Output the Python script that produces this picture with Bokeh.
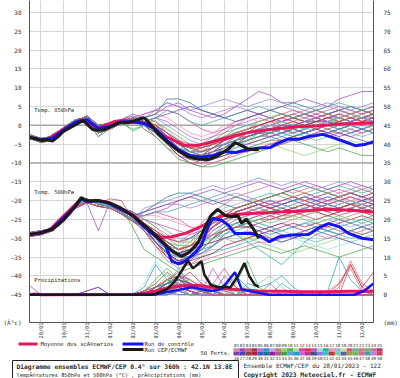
import math
from bokeh.plotting import figure
from bokeh.layouts import column
from bokeh.models import Range1d, LinearAxis, FixedTicker, Label, Span, ColumnDataSource
from bokeh.core.properties import value
from bokeh.embed import file_html
from bokeh.resources import INLINE

# ---------------- data ----------------
HOURS = [0, 12, 24, 36, 48, 60, 72, 84, 96, 108, 120, 132, 144, 156, 168, 180, 192,
         204, 216, 228, 240, 252, 264, 276, 288, 300, 312, 324, 336, 348, 360]

DATE_HOURS = [12, 36, 60, 84, 108, 132, 156, 180, 204, 228, 252, 276, 300, 324, 348]
DATE_LABELS = ["29/01", "30/01", "31/01", "01/02", "02/02", "03/02", "04/02", "05/02",
               "06/02", "07/02", "08/02", "09/02", "10/02", "11/02", "12/02"]
T_TICKS = [-45, -40, -35, -30, -25, -20, -15, -10, -5, 0, 5, 10, 15, 20, 25, 30]
MM_TICKS = [0, 5, 10, 15, 20, 25, 30, 35, 40, 45, 50, 55, 60, 65, 70, 75]
T_UNIT_LABEL = "(Â°c)"
MM_UNIT_LABEL = "(mm)"

MEMBER_COLORS = [
    "#d08aa8", "#a040c0", "#c86070", "#a03050", "#b070d0", "#3090c8", "#c0a0e0", "#b88070",
    "#90d070", "#50b050", "#a0e0a0", "#e040a0", "#e03050", "#c050c0", "#90e0e0", "#30b0a0",
    "#f090b0", "#90b0e0", "#c0e090", "#e05070", "#50c0a0", "#e07070", "#70b070", "#c070a0",
    "#c03070",
    "#8040a0", "#5040c0", "#904040", "#b02040", "#3060c0", "#207090", "#9020a0", "#a06080",
    "#40a040", "#60a0e0", "#20a0c0", "#d060d0", "#b04080", "#405090", "#8080e0", "#40c0c0",
    "#d03030", "#70d0b0", "#6060a0", "#a0a040", "#60c060", "#e06090", "#40a0a0", "#c080e0",
    "#d04060"]

T850_MEMBERS = [
    [-3, -4, -3.5, -1, 1, 1.5, -1, -0.5, 1, 1, 1, -1, -4, -7, -9, -9, -8, -7, -5, -4, -3, -3, -2, -1, -2, -1, 0, 1, 0, 1, 2],
    [-3, -4, -3, -1.5, 0.5, 2, -0.5, 0, 1.5, 3, 2, 3, 5, 6, 4, 3, 2, 3, 5, 7, 9, 8, 6, 6, 7, 6, 5, 7, 8, 9, 9],
    [-3.5, -4.5, -4, -1, 1, 1.5, -1.5, -1, 0.5, 1, 0, -2, -5, -8, -10, -11, -10, -9, -7, -6, -5, -4, -4, -3, -4, -3, -2, -2, -3, -2, -1],
    [-3, -3.5, -3, -0.5, 1.5, 2, -1, 0, 1, 2, -1, -3, -6, -8, -9, -8, -7, -5, -4, -2, -1, 0, 1, 2, 1, 2, 3, 2, 1, 2, 3],
    [-3, -4, -3.5, -1.5, 0.5, 1, -2, -1, 0.5, 0.5, 3, 4, 6, 5, 3, 2, 3, 4, 5, 4, 3, 2, 3, 4, 3, 2, 3, 4, 5, 4, 3],
    [-2.5, -3.5, -3, -1, 1, 2.5, 0, 0.5, 1.5, 1, 1, 0, -3, -6, -8, -9, -7, -6, -4, -3, -2, -1, -2, -3, -2, -1, 0, -1, -2, -1, 0],
    [-3, -4, -3.5, -1, 1, 1.5, -1, -0.5, 1, 1, 2, 1, -1, -4, -6, -7, -6, -4, -3, -1, 0, 1, 2, 1, 2, 3, 2, 3, 4, 3, 2],
    [-3, -4, -3, -1.5, 0.5, 2, -0.5, 0, 1.5, 1.5, 0, -2, -4, -6, -7, -7, -6, -5, -6, -5, -4, -3, -2, -1, 0, 1, 0, -1, 0, 1, 1],
    [-3.5, -4.5, -4, -1, 1, 1.5, -3, -1, 0.5, 1, 2, 1, -2, -5, -7, -8, -8, -7, -6, -5, -4, -5, -6, -7, -8, -7, -6, -5, -4, -5, -4],
    [-3, -3.5, -3, -0.5, 1.5, 2, -1, 0, 1, 2, 0, -1, -3, -5, -6, -5, -4, -2, -1, 0, 1, 2, 3, 2, 1, 2, 3, 4, 3, 2, 3],
    [-3, -4, -3.5, -1.5, 0.5, 1, -2, -1, 0.5, 0.5, 1, -1, -4, -7, -9, -10, -9, -8, -6, -5, -3, -2, -1, 0, 1, 0, 1, 2, 1, 0, 1],
    [-2.5, -3.5, -3, -1, 1, 2.5, 0, 0.5, 1.5, 2, 3, 4, 4, 3, 1, -1, -2, -1, 1, 2, 3, 4, 3, 2, 1, 2, 3, 4, 3, 4, 5],
    [-3, -4, -3.5, -1, 1, 1.5, -1, -0.5, 1, 1, 0, -2, -5, -8, -9, -9, -8, -6, -5, -4, -3, -2, -1, -2, -1, 0, 1, 2, 3, 2, 1],
    [-3, -4, -3, -1.5, 0.5, 2, -0.5, 0, 1.5, 1.5, 1, 2, 1, -1, -3, -4, -3, -1, 0, 1, 2, 1, 0, 1, 2, 3, 4, 5, 4, 3, 4],
    [-3.5, -4.5, -4, -1, 1, 1.5, -1.5, -1, 0.5, 1, 0, -3, -6, -8, -9, -10, -9, -7, -6, -5, -4, -3, -2, -1, -2, -3, -2, -1, 0, -1, 0],
    [-3, -3.5, -3, -0.5, 1.5, 2, -1, 0, 1, 2, 1, -1, -4, -6, -7, -6, -5, -3, -2, -1, 0, -1, -2, -1, 0, 1, 2, 1, 0, 1, 2],
    [-3, -4, -3.5, -1.5, 0.5, 1, -2, -1, 0.5, 0.5, 2, 3, 2, 0, -2, -3, -2, 0, 1, 2, 1, 2, 3, 4, 3, 2, 1, 2, 3, 2, 3],
    [-2.5, -3.5, -3, -1, 1, 2.5, 0, 0.5, 1.5, 1, 0, -2, -4, -7, -8, -8, -7, -7, -6, -4, -3, -3, -2, -2, -1, -1, 0, 0, -1, 0, -1],
    [-3, -4, -3.5, -1, 1, 1.5, -1, -0.5, 1, 1, 1, 0, -2, -4, -6, -7, -7, -6, -5, -3, -2, -1, 0, 1, 2, 1, 2, 1, 2, 3, 2],
    [-3, -4, -3, -1.5, 0.5, 2, -0.5, 0, 1.5, 1.5, 2, 0, -3, -6, -8, -8, -6, -4, -2, -1, 0, 1, 2, 3, 4, 3, 2, 3, 2, 1, 2],
    [-3.5, -4.5, -4, -1, 1, 1.5, -3, -1, 0.5, -1, 0, -2, -5, -7, -8, -9, -9, -8, -7, -6, -5, -4, -3, -2, -3, -4, -3, -2, -1, -2, -1],
    [-3, -3.5, -3, -0.5, 1.5, 2, -1, 0, 1, 2, 1, -1, -3, -5, -7, -6, -4, -3, -2, -1, 0, 1, 1, 0, 1, 2, 1, 0, 1, 2, 1],
    [-3, -4, -3.5, -1.5, 0.5, 1, -2, -1, 0.5, 0.5, 1, 0, -2, -4, -6, -6, -5, -5, -4, -3, -2, -2, -1, -1, 0, 0, 1, 1, 2, 2, 1],
    [-2.5, -3.5, -3, -1, 1, 2.5, 0, 0.5, 1.5, 1, 2, 1, -2, -5, -6, -5, -3, -2, 0, 2, 3, 4, 5, 4, 3, 4, 5, 4, 3, 4, 5],
    [-3, -4, -3.5, -1, 1, 1.5, -1, -0.5, 1, 1, 0, -2, -5, -8, -10, -10, -9, -7, -5, -3, -2, -1, -1, 0, 1, 2, 1, 0, 1, 0, 1],
    [-3, -4, -3, -1.5, 0.5, 2, -0.5, 0, 1.5, 2.5, 1, 2, 3, 4, 5, 4, 3, 2, 3, 4, 3, 2, 1, 2, 3, 2, 1, 0, 1, 2, 3],
    [-3.5, -4.5, -4, -1, 1, 1.5, -1.5, -1, 0.5, 1, 0, -1, -4, -7, -8, -9, -8, -7, -5, -4, -3, -2, -3, -4, -3, -2, -1, -2, -3, -4, -5],
    [-3, -3.5, -3, -0.5, 1.5, 2, -1, 0, 1, 2, 1, 0, -3, -5, -7, -8, -7, -5, -4, -2, -1, 0, 1, 2, 1, 0, -1, 0, 1, 0, 1],
    [-3, -4, -3.5, -1.5, 0.5, 1, -2, -1, 0.5, 0.5, 1, -1, -3, -6, -8, -9, -9, -8, -7, -7, -6, -5, -4, -3, -2, -1, -2, -1, 0, 1, 0],
    [-2.5, -3.5, -3, -1, 1, 2.5, 0, 0.5, 1.5, 1, 0, -2, -4, -7, -8, -8, -6, -5, -3, -2, -1, -1, 0, 0, 1, 1, 2, 2, 1, 2, 2],
    [-3, -4, -3.5, -1, 1, 1.5, -1, -0.5, 1, 1, 2, 3, 7, 7, 6, 4, 3, 2, 1, 2, 3, 4, 5, 6, 5, 4, 3, 4, 5, 4, 3],
    [-3, -4, -3, -1.5, 0.5, 2, -0.5, 0, 1.5, 1.5, 1, -1, -4, -6, -8, -8, -7, -6, -5, -5, -4, -3, -2, -1, -2, -1, -2, -3, -2, -1, -2],
    [-3.5, -4.5, -4, -1, 1, 1.5, -1.5, -1, 0.5, 1, 1, 0, -2, -5, -7, -7, -5, -4, -3, -2, -1, 0, -1, -2, -1, 0, 1, 2, 1, 2, 3],
    [-3, -3.5, -3, -0.5, 1.5, 2, -3, 0, 1, -1.5, 0, -3, -6, -9, -10, -11, -11, -10, -9, -8, -7, -6, -5, -4, -5, -6, -7, -6, -7, -8, -8],
    [-3, -4, -3.5, -1.5, 0.5, 1, -2, -1, 0.5, 0.5, 1, 2, 0, -2, -4, -5, -4, -3, -1, 0, 1, 2, 1, 0, -1, 0, 1, 2, 1, 0, 1],
    [-2.5, -3.5, -3, -1, 1, 2.5, 0, 0.5, 1.5, 1, 1, -1, -3, -5, -7, -8, -8, -7, -5, -4, -2, -1, 0, -1, -2, -3, -2, -1, 0, -1, -2],
    [-3, -4, -3.5, -1, 1, 1.5, -1, -0.5, 1, 1, 0, -2, -5, -7, -8, -7, -6, -4, -3, -2, -1, 0, 1, 2, 3, 4, 3, 2, 3, 4, 3],
    [-3, -4, -3, -1.5, 0.5, 2, -0.5, 0, 1.5, 1.5, 1, 0, -2, -4, -5, -6, -5, -4, -2, -1, 0, 1, 2, 3, 2, 1, 2, 3, 2, 3, 4],
    [-3.5, -4.5, -4, -1, 1, 1.5, -1.5, -1, 0.5, 1, 1, -1, -4, -7, -9, -9, -8, -6, -5, -3, -2, -2, -1, 0, 0, 1, 1, 0, 1, 2, 1],
    [-3, -3.5, -3, -0.5, 1.5, 2, -1, 0, 1, 2, 2, 4, 6, 5, 4, 5, 6, 7, 6, 5, 6, 7, 6, 5, 4, 5, 6, 5, 4, 5, 6],
    [-3, -4, -3.5, -1.5, 0.5, 1, -2, -1, 0.5, 0.5, 0, -2, -4, -6, -7, -7, -6, -5, -4, -3, -2, -1, -2, -3, -2, -1, 0, -1, -2, -3, -2],
    [-2.5, -3.5, -3, -1, 1, 2.5, 0, 0.5, 1.5, 1, 1, 0, -3, -5, -6, -7, -6, -4, -3, -2, 0, 1, 2, 1, 0, 1, 2, 1, 2, 1, 2],
    [-3, -4, -3.5, -1, 1, 1.5, -1, -0.5, 1, 1, 1, -1, -4, -6, -8, -9, -8, -6, -4, -2, -1, 0, 1, 0, -1, 0, 1, 2, 3, 2, 1],
    [-3, -4, -3, -1.5, 0.5, 2, -0.5, 0, 1.5, 1.5, 0, -2, -5, -7, -9, -9, -7, -6, -4, -3, -2, -3, -4, -3, -2, -1, 0, 1, 0, -1, 0],
    [-3.5, -4.5, -4, -1, 1, 1.5, -1.5, -1, 0.5, 1, 1, 1, -1, -3, -5, -6, -5, -3, -2, -1, 1, 2, 3, 2, 3, 4, 3, 2, 3, 4, 3],
    [-3, -3.5, -3, -0.5, 1.5, 2, -1, 0, 1, 2, 1, 0, -3, -6, -8, -9, -8, -6, -5, -4, -3, -2, -1, -1, 0, -1, 0, 1, 0, 1, 0],
    [-3, -4, -3.5, -1.5, 0.5, 1, -2, -1, 0.5, 0.5, 1, -1, -4, -7, -9, -10, -10, -9, -8, -7, -6, -6, -5, -4, -3, -2, -3, -2, -1, -2, -1],
    [-2.5, -3.5, -3, -1, 1, 2.5, 0, 0.5, 1.5, 1, 1, 2, 4, 3, 1, 0, 1, 2, 3, 4, 5, 4, 3, 2, 3, 4, 5, 6, 5, 4, 5],
    [-3, -4, -3.5, -1, 1, 1.5, -1, -0.5, 1, 1, 0, -1, -3, -6, -8, -8, -7, -5, -3, -2, -1, 0, -1, 0, 1, 2, 1, 0, 1, 2, 1],
    [-3, -4, -3, -1.5, 0.5, 2, -0.5, 0, 1.5, 1.5, 1, -1, -3, -5, -6, -6, -5, -4, -3, -3, -2, -1, 0, 1, 0, -1, 0, 1, 2, 1, 0],
]

T500_MEMBERS = [
    [-29, -28.5, -27.5, -25, -21.5, -20, -20.5, -21, -22.5, -24, -27, -31, -34, -36, -34, -30, -27, -25, -24, -26, -25, -24, -25, -23, -24, -22, -21, -22, -23, -22, -21],
    [-29.5, -29, -28, -25.5, -22, -20.5, -28, -20.5, -22, -23.5, -24, -23, -22, -20, -19, -18, -17, -18, -17, -16, -15, -16, -17, -16, -15, -16, -17, -16, -15, -16, -17],
    [-29, -28.5, -27, -24.5, -21, -19.5, -21, -21.5, -23, -25, -28, -32, -36, -38, -37, -35, -32, -30, -29, -28, -29, -30, -31, -30, -29, -28, -27, -28, -29, -28, -27],
    [-28.5, -28, -27.5, -25, -22, -20, -20, -21, -22, -23, -27, -30, -34, -35, -33, -30, -27, -25, -23, -22, -21, -20, -21, -20, -19, -20, -21, -20, -19, -20, -21],
    [-29, -29, -27.5, -24, -21.5, -20.5, -21.5, -22, -23.5, -25.5, -23, -22, -21, -21, -22, -21, -20, -19, -18, -19, -20, -19, -18, -19, -20, -21, -20, -19, -18, -17, -18],
    [-29, -28.5, -27.5, -25, -21.5, -20, -20.5, -21, -22.5, -24, -26, -29, -32, -34, -33, -31, -29, -27, -26, -27, -28, -29, -28, -27, -26, -27, -28, -27, -26, -25, -26],
    [-29.5, -29, -28, -25.5, -22, -20.5, -20, -20.5, -22, -23.5, -26, -28, -30, -31, -30, -27, -24, -22, -21, -20, -21, -22, -21, -20, -19, -20, -19, -18, -19, -20, -19],
    [-29, -28.5, -27, -24.5, -21, -19.5, -21, -21.5, -23, -25, -27, -30, -33, -34, -32, -30, -29, -30, -31, -30, -28, -27, -26, -25, -24, -23, -24, -25, -24, -23, -24],
    [-28.5, -28, -27.5, -25, -22, -20, -20, -21, -22, -23, -26, -29, -32, -33, -33, -32, -31, -30, -29, -30, -31, -32, -33, -34, -33, -32, -31, -30, -31, -30, -29],
    [-29, -29, -27.5, -24, -21.5, -20.5, -21.5, -22, -23.5, -25.5, -27, -30, -32, -33, -31, -28, -25, -23, -22, -21, -20, -19, -18, -19, -20, -19, -18, -19, -18, -19, -20],
    [-29, -28.5, -27.5, -25, -21.5, -20, -20.5, -21, -22.5, -24, -28, -31, -35, -37, -36, -34, -31, -28, -26, -25, -24, -23, -22, -23, -24, -23, -22, -21, -22, -23, -22],
    [-29.5, -29, -28, -25.5, -22, -20.5, -20, -20.5, -22, -23.5, -24, -23, -24, -25, -27, -28, -27, -25, -23, -22, -21, -20, -21, -22, -23, -22, -21, -20, -19, -20, -19],
    [-29, -28.5, -27, -24.5, -21, -19.5, -21, -19.5, -20, -25, -27, -31, -35, -36, -35, -33, -30, -28, -27, -26, -25, -24, -25, -24, -23, -22, -21, -22, -21, -22, -23],
    [-28.5, -28, -27.5, -25, -22, -20, -20, -21, -22, -23, -25, -26, -27, -28, -29, -28, -26, -24, -22, -21, -20, -21, -22, -21, -20, -19, -18, -17, -18, -19, -18],
    [-29, -29, -27.5, -24, -21.5, -20.5, -21.5, -22, -23.5, -25.5, -28, -33, -36, -38, -37, -36, -34, -32, -31, -30, -31, -32, -31, -30, -31, -32, -33, -32, -31, -30, -29],
    [-29, -28.5, -27.5, -25, -21.5, -20, -20.5, -21, -22.5, -24, -26, -29, -31, -32, -30, -28, -26, -25, -24, -25, -26, -27, -28, -27, -26, -25, -24, -25, -26, -25, -24],
    [-29.5, -29, -28, -25.5, -22, -20.5, -20, -20.5, -22, -23.5, -24, -24, -25, -26, -27, -27, -25, -23, -22, -21, -22, -21, -20, -19, -20, -21, -22, -21, -20, -21, -20],
    [-29, -28.5, -27, -24.5, -21, -19.5, -21, -21.5, -23, -25, -27, -30, -33, -35, -35, -34, -33, -33, -32, -30, -29, -28, -28, -27, -26, -26, -25, -26, -27, -26, -27],
    [-28.5, -28, -27.5, -25, -22, -20, -20, -21, -22, -23, -26, -28, -31, -33, -33, -32, -30, -28, -26, -24, -23, -22, -21, -22, -21, -22, -21, -20, -21, -22, -21],
    [-29, -29, -27.5, -24, -21.5, -20.5, -21.5, -22, -23.5, -25.5, -27, -30, -33, -35, -34, -31, -27, -24, -22, -21, -20, -19, -18, -17, -18, -19, -20, -19, -20, -21, -20],
    [-29, -28.5, -27.5, -25, -21.5, -20, -20.5, -21, -22.5, -24, -28, -31, -34, -35, -35, -35, -34, -33, -32, -31, -30, -31, -30, -29, -30, -31, -30, -29, -28, -29, -28],
    [-29.5, -29, -28, -25.5, -22, -20.5, -20, -20.5, -22, -23.5, -26, -28, -31, -33, -32, -29, -27, -25, -24, -23, -22, -21, -22, -23, -22, -21, -22, -23, -22, -21, -22],
    [-29, -28.5, -27, -24.5, -21, -19.5, -21, -21.5, -23, -25, -26, -28, -30, -32, -32, -31, -29, -28, -27, -26, -25, -25, -24, -24, -23, -23, -22, -22, -21, -21, -22],
    [-28.5, -28, -27.5, -25, -22, -20, -20, -21, -22, -23, -25, -27, -30, -31, -29, -26, -23, -21, -19, -18, -17, -16, -17, -18, -17, -16, -17, -18, -17, -16, -17],
    [-29, -29, -27.5, -24, -21.5, -20.5, -21.5, -22, -23.5, -25.5, -28, -32, -35, -37, -36, -33, -30, -27, -25, -24, -23, -22, -23, -22, -21, -22, -23, -24, -23, -22, -23],
    [-29, -28.5, -27.5, -25, -21.5, -20, -20.5, -21, -22.5, -24, -23, -22, -21, -20, -19, -20, -21, -20, -19, -20, -21, -22, -21, -20, -19, -20, -21, -22, -21, -20, -19],
    [-29.5, -29, -28, -25.5, -22, -20.5, -20, -20.5, -22, -23.5, -27, -30, -33, -35, -35, -34, -32, -29, -27, -26, -27, -28, -29, -30, -29, -28, -29, -30, -31, -32, -33],
    [-29, -28.5, -27, -24.5, -21, -19.5, -21, -21.5, -23, -25, -26, -29, -32, -34, -33, -31, -28, -26, -24, -23, -22, -23, -24, -23, -22, -23, -24, -23, -22, -23, -22],
    [-28.5, -28, -27.5, -25, -22, -20, -20, -21, -22, -23, -27, -31, -34, -36, -36, -35, -34, -32, -31, -30, -29, -28, -27, -26, -27, -26, -27, -26, -25, -24, -25],
    [-29, -29, -27.5, -24, -21.5, -20.5, -21.5, -22, -23.5, -25.5, -27, -30, -33, -34, -33, -30, -27, -25, -23, -22, -21, -22, -21, -20, -21, -20, -19, -20, -21, -20, -21],
    [-29, -28.5, -27.5, -25, -21.5, -20, -20.5, -21, -22.5, -24, -23, -21, -19, -18, -18, -19, -20, -21, -22, -21, -20, -19, -18, -17, -16, -17, -18, -19, -18, -19, -20],
    [-29.5, -29, -28, -25.5, -22, -20.5, -20, -20.5, -22, -23.5, -27, -30, -33, -34, -33, -32, -31, -30, -29, -29, -28, -27, -26, -27, -28, -27, -28, -29, -28, -27, -28],
    [-29, -28.5, -27, -24.5, -21, -19.5, -21, -21.5, -23, -25, -26, -28, -31, -33, -32, -29, -26, -24, -23, -22, -23, -24, -23, -22, -21, -22, -21, -20, -21, -20, -19],
    [-28.5, -28, -27.5, -25, -22, -20, -20, -21, -22, -27, -33, -35, -37, -39, -38, -37, -36, -35, -34, -33, -32, -33, -34, -33, -32, -33, -34, -35, -34, -33, -32],
    [-29, -29, -27.5, -24, -21.5, -20.5, -21.5, -22, -23.5, -25.5, -25, -26, -28, -30, -30, -29, -27, -25, -23, -22, -21, -20, -21, -22, -23, -22, -21, -22, -23, -22, -21],
    [-29, -28.5, -27.5, -25, -21.5, -20, -20.5, -21, -22.5, -24, -27, -30, -33, -34, -34, -33, -32, -30, -29, -31, -33, -35, -37, -34, -31, -29, -28, -29, -28, -27, -28],
    [-29.5, -29, -28, -25.5, -22, -20.5, -20, -20.5, -22, -23.5, -27, -30, -33, -35, -33, -30, -27, -25, -24, -23, -22, -21, -20, -19, -18, -19, -20, -21, -20, -19, -20],
    [-29, -28.5, -27, -24.5, -21, -19.5, -21, -21.5, -23, -25, -26, -28, -30, -31, -30, -28, -26, -24, -22, -21, -20, -21, -20, -19, -20, -21, -20, -19, -18, -19, -18],
    [-28.5, -28, -27.5, -25, -22, -20, -20, -21, -22, -23, -27, -31, -34, -36, -35, -33, -30, -28, -26, -25, -24, -23, -22, -23, -22, -21, -22, -23, -22, -21, -22],
    [-29, -29, -27.5, -24, -21.5, -20.5, -21.5, -22, -23.5, -25.5, -22, -21, -20, -19, -18, -17, -16, -17, -16, -15, -14, -15, -16, -15, -16, -17, -16, -15, -16, -17, -16],
    [-29, -28.5, -27.5, -25, -21.5, -20, -20.5, -21, -22.5, -24, -27, -29, -32, -33, -32, -31, -30, -29, -28, -27, -26, -27, -28, -29, -28, -27, -28, -29, -30, -29, -28],
    [-29.5, -29, -28, -25.5, -22, -20.5, -20, -20.5, -22, -23.5, -26, -29, -31, -33, -32, -30, -27, -25, -23, -22, -21, -22, -23, -22, -21, -22, -23, -22, -21, -22, -21],
    [-29, -28.5, -27, -24.5, -21, -19.5, -21, -21.5, -23, -25, -27, -30, -34, -35, -34, -32, -29, -26, -24, -23, -22, -23, -22, -21, -22, -23, -22, -21, -20, -21, -22],
    [-28.5, -28, -27.5, -25, -22, -20, -20, -21, -22, -23, -28, -31, -34, -36, -35, -33, -30, -28, -27, -27, -28, -30, -31, -30, -28, -27, -26, -25, -26, -27, -26],
    [-29, -29, -27.5, -24, -21.5, -20.5, -21.5, -22, -23.5, -25.5, -25, -27, -29, -31, -31, -29, -26, -24, -22, -21, -20, -19, -18, -19, -18, -17, -18, -19, -18, -17, -18],
    [-29, -28.5, -27.5, -25, -21.5, -20, -20.5, -21, -22.5, -24, -27, -30, -33, -35, -35, -33, -30, -28, -27, -26, -25, -26, -25, -24, -25, -26, -25, -24, -25, -26, -25],
    [-29.5, -29, -28, -25.5, -22, -20.5, -20, -20.5, -22, -23.5, -28, -32, -35, -37, -37, -36, -35, -34, -33, -32, -31, -31, -30, -29, -28, -29, -30, -29, -28, -29, -28],
    [-29, -28.5, -27, -24.5, -21, -19.5, -21, -21.5, -23, -25, -24, -23, -23, -22, -21, -20, -19, -18, -19, -20, -19, -18, -19, -20, -19, -18, -17, -16, -17, -18, -17],
    [-28.5, -28, -27.5, -25, -22, -20, -20, -21, -22, -23, -27, -30, -33, -35, -34, -31, -28, -26, -24, -23, -24, -25, -24, -23, -22, -21, -22, -23, -22, -21, -22],
    [-29, -29, -27.5, -24, -21.5, -20.5, -21.5, -22, -23.5, -25.5, -26, -29, -31, -33, -32, -31, -29, -28, -27, -27, -26, -25, -24, -23, -24, -25, -24, -23, -22, -23, -24],
]

PRECIP_MEMBERS = [
    [0, 0, 0, 0, 0, 0, 0, 0, 0, 0, 0, 1, 3, 5, 2, 1, 0, 1, 0, 0, 0, 0, 0, 0, 1, 0, 0, 0, 0, 0, 0],
    [2.5, 0, 0, 0, 0, 1, 2, 0, 0, 0, 0, 0, 1, 2, 3, 1, 0, 0, 0, 0, 0, 1, 0, 0, 0, 0, 0, 0, 0, 0, 0],
    [0, 0, 0, 0, 0, 0, 0, 0, 0, 0, 1, 3, 6, 4, 2, 3, 1, 0, 0, 0, 1, 0, 0, 0, 0, 0, 0, 0, 0, 0, 0],
    [0, 0, 0, 0, 0, 0, 0, 0, 0, 0, 0, 1, 2, 4, 6, 3, 1, 0, 0, 1, 0, 0, 0, 0, 0, 0, 0, 0, 0, 0, 0],
    [0, 0, 0, 0, 0, 0, 0, 0, 0, 0, 0, 0, 0, 1, 0, 0, 2, 1, 0, 0, 0, 0, 0, 0, 0, 0, 0, 0, 0, 0, 0],
    [0, 0, 0, 0, 0, 0, 0, 0, 0, 0, 2, 8, 4, 2, 1, 0, 0, 3, 1, 0, 0, 0, 0, 0, 0, 0, 0, 0, 0, 0, 0],
    [0, 0, 0, 0, 0, 0, 0, 0, 0, 0, 0, 0, 2, 3, 1, 4, 2, 0, 0, 0, 0, 0, 0, 0, 0, 0, 0, 0, 0, 1, 0],
    [0, 0, 0, 0, 0, 0, 0, 0, 0, 0, 0, 1, 2, 2, 3, 1, 0, 0, 1, 0, 0, 0, 0, 0, 0, 0, 0, 0, 0, 0, 0],
    [0, 0, 0, 0, 0, 0, 0, 0, 0, 0, 0, 2, 5, 3, 1, 0, 0, 2, 1, 0, 0, 0, 0, 1, 0, 0, 0, 0, 0, 0, 0],
    [0, 0, 0, 0, 0, 0, 0, 0, 0, 0, 1, 3, 6, 2, 1, 0, 0, 0, 3, 9, 2, 0, 0, 0, 0, 0, 0, 0, 0, 0, 0],
    [0, 0, 0, 0, 0, 0, 0, 0, 0, 0, 0, 0, 1, 3, 4, 2, 1, 0, 0, 0, 0, 0, 0, 0, 0, 0, 0, 0, 0, 0, 0],
    [0, 0, 0, 0, 0, 0, 0, 0, 0, 0, 0, 0, 1, 2, 1, 0, 3, 7, 2, 0, 0, 0, 0, 0, 0, 0, 0, 0, 0, 0, 0],
    [0, 0, 0, 0, 0, 0, 0, 0, 0, 0, 0, 1, 3, 4, 2, 1, 1, 0, 0, 0, 0, 0, 0, 0, 0, 0, 0, 0, 8, 2, 0],
    [0, 0, 0, 0, 0, 0, 0, 0, 0, 0, 0, 0, 1, 2, 0, 1, 7, 2, 0, 0, 1, 0, 0, 0, 0, 0, 0, 0, 0, 0, 0],
    [0, 0, 0, 0, 0, 0, 0, 0, 0, 0, 3, 9, 5, 2, 1, 0, 0, 0, 0, 0, 0, 0, 0, 0, 0, 0, 0, 0, 0, 0, 0],
    [0, 0, 0, 0, 0, 0, 0, 0, 0, 0, 0, 1, 3, 2, 1, 0, 1, 2, 5, 2, 0, 0, 3, 1, 0, 0, 0, 0, 0, 0, 0],
    [0, 0, 0, 0, 0, 0, 0, 0, 0, 0, 0, 0, 0, 1, 2, 1, 0, 0, 0, 0, 0, 0, 0, 0, 0, 0, 0, 0, 0, 0, 0],
    [0, 0, 0, 0, 0, 0, 0, 0, 0, 0, 0, 1, 2, 4, 3, 1, 0, 0, 0, 0, 0, 0, 0, 0, 0, 0, 0, 0, 0, 0, 0],
    [0, 0, 0, 0, 0, 0, 0, 0, 0, 0, 0, 1, 2, 5, 3, 2, 0, 0, 1, 0, 0, 0, 0, 0, 0, 0, 0, 0, 0, 0, 0],
    [0, 0, 0, 0, 0, 0, 0, 0, 0, 0, 0, 0, 2, 3, 1, 0, 0, 0, 0, 0, 0, 0, 0, 0, 0, 0, 0, 2, 9, 3, 1],
    [0, 0, 0, 0, 0, 0, 0, 0, 0, 0, 1, 2, 3, 7, 3, 1, 0, 0, 0, 2, 0, 0, 0, 0, 0, 0, 0, 0, 0, 0, 0],
    [0, 0, 0, 0, 0, 0, 0, 0, 0, 0, 0, 0, 1, 2, 1, 0, 0, 0, 0, 0, 0, 0, 0, 0, 0, 0, 1, 3, 7, 1, 0],
    [0, 0, 0, 0, 0, 0, 0, 0, 0, 0, 0, 1, 4, 6, 2, 1, 3, 1, 0, 0, 0, 0, 0, 0, 0, 0, 0, 0, 0, 0, 0],
    [0, 0, 0, 0, 0, 0, 0, 0, 0, 0, 0, 0, 0, 1, 1, 0, 0, 0, 0, 0, 0, 0, 0, 0, 0, 0, 0, 0, 0, 0, 0],
    [0, 0, 0, 0, 0, 0, 0, 0, 0, 0, 1, 2, 4, 3, 2, 1, 1, 0, 0, 0, 0, 0, 0, 0, 0, 0, 0, 0, 0, 0, 0],
    [0, 0, 0, 0, 0, 1, 2, 0, 0, 0, 0, 0, 1, 0, 0, 1, 0, 5, 2, 0, 0, 0, 0, 0, 0, 0, 0, 0, 0, 0, 0],
    [0, 0, 0, 0, 0, 0, 0, 0, 0, 0, 0, 1, 3, 4, 2, 1, 0, 0, 0, 0, 0, 0, 0, 0, 0, 0, 0, 0, 0, 0, 0],
    [0, 0, 0, 0, 0, 0, 0, 0, 0, 0, 0, 1, 2, 3, 2, 1, 0, 0, 0, 0, 0, 0, 0, 0, 0, 0, 0, 0, 0, 0, 0],
    [0, 0, 0, 0, 0, 0, 0, 0, 0, 0, 0, 2, 4, 5, 3, 1, 0, 0, 0, 0, 0, 0, 0, 0, 0, 0, 0, 0, 0, 0, 0],
    [0, 0, 0, 0, 0, 0, 0, 0, 0, 0, 0, 1, 2, 3, 1, 0, 0, 0, 0, 0, 0, 0, 0, 0, 0, 0, 0, 0, 0, 0, 0],
    [0, 0, 0, 0, 0, 0, 0, 0, 0, 0, 0, 0, 0, 1, 0, 0, 0, 0, 0, 0, 0, 0, 0, 0, 0, 0, 0, 0, 0, 0, 0],
    [0, 0, 0, 0, 0, 0, 0, 0, 0, 0, 0, 1, 3, 5, 4, 2, 1, 0, 0, 0, 0, 0, 0, 0, 0, 0, 0, 0, 0, 0, 0],
    [0, 0, 0, 0, 0, 0, 0, 0, 0, 0, 0, 0, 1, 2, 1, 0, 0, 0, 0, 0, 0, 3, 0, 0, 0, 0, 0, 0, 0, 0, 0],
    [0, 0, 0, 0, 0, 0, 0, 0, 0, 0, 1, 4, 7, 4, 2, 1, 0, 0, 0, 0, 0, 0, 0, 0, 0, 0, 0, 0, 0, 0, 0],
    [0, 0, 0, 0, 0, 0, 0, 0, 0, 0, 0, 0, 1, 1, 0, 0, 0, 2, 0, 0, 0, 0, 0, 0, 0, 0, 0, 0, 0, 0, 0],
    [0, 0, 0, 0, 0, 0, 0, 0, 0, 0, 0, 1, 3, 4, 2, 2, 1, 0, 0, 3, 2, 3, 5, 2, 0, 0, 1, 10, 4, 1, 0],
    [0, 0, 0, 0, 0, 0, 0, 0, 0, 0, 0, 0, 2, 3, 1, 0, 0, 0, 0, 0, 0, 0, 0, 0, 0, 0, 0, 0, 0, 0, 0],
    [0, 0, 0, 0, 0, 0, 0, 0, 0, 0, 0, 1, 2, 2, 1, 0, 0, 0, 0, 0, 0, 0, 0, 0, 0, 0, 0, 0, 0, 0, 0],
    [0, 0, 0, 0, 0, 0, 0, 0, 0, 0, 0, 2, 3, 4, 3, 1, 0, 0, 0, 0, 0, 0, 0, 0, 0, 0, 0, 0, 0, 0, 0],
    [0, 0, 0, 0, 0, 0, 0, 0, 0, 0, 0, 0, 0, 0, 0, 0, 0, 0, 0, 0, 0, 0, 0, 0, 0, 0, 0, 0, 0, 0, 0],
    [0, 0, 0, 0, 0, 0, 0, 0, 0, 0, 0, 1, 3, 5, 3, 1, 0, 0, 0, 1, 0, 0, 0, 0, 0, 0, 0, 0, 0, 0, 0],
    [0, 0, 0, 0, 0, 0, 0, 0, 0, 0, 0, 0, 1, 3, 2, 1, 0, 0, 0, 0, 0, 0, 0, 0, 0, 0, 0, 3, 8, 2, 6],
    [0, 0, 0, 0, 0, 0, 0, 0, 0, 0, 0, 1, 2, 3, 2, 1, 0, 0, 0, 0, 3, 5, 2, 0, 0, 0, 0, 0, 0, 0, 0],
    [0, 0, 0, 0, 0, 0, 0, 0, 0, 0, 0, 1, 3, 4, 3, 2, 1, 0, 0, 0, 0, 0, 0, 0, 0, 0, 0, 0, 0, 0, 0],
    [0, 0, 0, 0, 0, 0, 0, 0, 0, 0, 0, 0, 1, 1, 0, 0, 0, 0, 0, 0, 0, 0, 0, 0, 0, 0, 0, 0, 0, 0, 0],
    [0, 0, 0, 0, 0, 0, 0, 0, 0, 0, 0, 1, 4, 3, 2, 1, 0, 0, 0, 0, 0, 0, 0, 0, 0, 0, 0, 0, 0, 0, 0],
    [0, 0, 0, 0, 0, 0, 0, 0, 0, 0, 1, 2, 4, 6, 4, 2, 1, 0, 0, 0, 0, 0, 0, 0, 0, 0, 0, 0, 0, 0, 0],
    [0, 0, 0, 0, 0, 0, 0, 0, 0, 0, 0, 0, 0, 1, 0, 0, 0, 0, 0, 0, 0, 0, 0, 0, 0, 0, 0, 0, 0, 0, 0],
    [0, 0, 0, 0, 0, 0, 0, 0, 0, 0, 0, 1, 2, 3, 2, 0, 0, 0, 0, 0, 0, 0, 0, 0, 0, 0, 0, 0, 0, 0, 0],
    [0, 0, 0, 0, 0, 0, 0, 0, 0, 0, 0, 1, 2, 4, 3, 1, 0, 0, 0, 0, 0, 0, 0, 0, 0, 0, 0, 0, 0, 0, 0],
]

MEAN_T850_H = [0, 10, 17, 24, 35, 43, 54, 60, 66, 71, 80, 90, 101, 107, 114, 121, 128, 138, 149,
               162, 177, 187, 201, 214, 229, 240, 258, 279, 300, 320, 341, 360]
MEAN_T850 = [-3.2, -3.7, -4.0, -2.8, -1.1, 0.1, 1.6, 1.0, -0.6, -0.9, 0.1, 1.1, 1.3, 0.7, 0.9, 0.4,
             0.0, -2.4, -3.7, -5.3, -5.3, -4.7, -3.7, -2.8, -1.9, -1.5, -0.9, -0.4, -0.2, 0.3, 0.5, 0.7]
MEAN_T500_H = [0, 10, 21, 31, 42, 54, 61, 69, 80, 90, 101, 111, 121, 130, 138, 149, 163, 177, 190,
               201, 215, 232, 242, 261, 282, 310, 331, 360]
MEAN_T500 = [-28.9, -28.7, -27.8, -25.2, -22.5, -19.5, -20.3, -19.9, -20.3, -21.7, -23.0, -24.3,
             -26.9, -28.7, -29.8, -29.6, -28.7, -27.2, -25.4, -24.0, -23.7, -23.4, -23.3, -23.0,
             -22.8, -22.3, -22.5, -23.0]
MEAN_PRECIP_H = [0, 6, 12, 108, 120, 132, 144, 156, 168, 180, 192, 204, 216, 228, 240, 264, 288,
                 312, 336, 360]
MEAN_PRECIP = [0, 0.2, 0, 0.1, 0.4, 1.0, 1.8, 2.3, 2.5, 2.4, 1.9, 1.6, 1.4, 1.2, 1.0, 0.9, 0.8,
               0.8, 0.9, 0.9]

CTRL_T850_H = [0, 12, 24, 36, 48, 60, 72, 84, 96, 108, 120, 132, 144, 156, 168, 180, 192, 204, 216,
               228, 240, 252, 258, 270, 282, 292, 307, 317, 327, 341, 352, 360]
CTRL_T850 = [-3.2, -3.9, -3.4, -1.2, 0.8, 1.5, -0.8, -0.4, 0.9, 1.0, 0.5, -1.0, -4.0, -6.5, -8.0,
             -8.5, -8.0, -7.0, -7.2, -6.5, -6.0, -5.9, -5.0, -3.7, -3.7, -3.0, -2.4, -3.2, -4.1,
             -5.4, -5.0, -4.4]
CTRL_T500_H = [0, 12, 24, 36, 48, 54, 60, 72, 84, 96, 108, 120, 132, 142, 149, 156, 163, 173, 180,
               187, 192, 201, 208, 215, 232, 243, 251, 261, 275, 292, 303, 313, 324, 334, 348, 360]
CTRL_T500 = [-29.0, -28.6, -27.5, -24.5, -21.5, -19.5, -20.2, -20.0, -20.8, -22.3, -24.0, -27.0,
             -29.5, -31.8, -36.1, -36.8, -36.1, -33.9, -31.8, -26.9, -24.7, -25.2, -26.5, -28.7,
             -28.7, -29.6, -30.9, -29.6, -29.1, -29.0, -27.2, -26.1, -26.9, -28.7, -30.0, -30.4]
CTRL_PRECIP_H = [0, 130, 140, 150, 160, 170, 180, 190, 201, 215, 222, 230, 240, 250, 340, 350, 360]
CTRL_PRECIP = [0, 0, 0.5, 1.0, 1.5, 2.0, 1.5, 1.0, 1.5, 6.0, 1.5, 1.0, 0.5, 0, 0, 1.0, 3.0]

HRES_T850_H = [0, 6, 12, 18, 24, 30, 35, 45, 56, 66, 71, 78, 84, 94, 104, 114, 120, 125, 135, 145,
               156, 166, 177, 187, 197, 208, 215, 222, 229, 237, 240]
HRES_T850 = [-3.2, -3.5, -4.0, -3.8, -4.2, -3.0, -1.7, -0.3, 1.3, -1.1, -1.3, -1.2, -0.5, 0.7, 0.7,
             1.6, 2.0, 0.7, -2.4, -4.6, -6.8, -8.3, -9.0, -9.1, -8.1, -6.3, -4.6, -5.4, -6.3, -6.5,
             -6.3]
HRES_T500_H = [0, 12, 24, 36, 48, 54, 60, 72, 84, 96, 108, 120, 128, 138, 149, 159, 166, 172, 177,
               183, 190, 197, 204, 211, 218, 222, 227, 234, 240]
HRES_T500 = [-29.0, -28.5, -27.6, -25.0, -21.5, -19.2, -20.0, -20.0, -20.6, -22.0, -24.0, -26.5,
             -28.2, -30.6, -33.3, -34.8, -33.9, -32.5, -30.9, -27.4, -23.9, -22.3, -23.8, -24.3,
             -23.9, -26.0, -24.9, -27.4, -30.0]
HRES_PRECIP_H = [0, 126, 132, 138, 144, 150, 156, 162, 166, 171, 180, 183, 190, 198, 204, 210, 218,
                 225, 230, 236, 240]
HRES_PRECIP = [0, 0, 0.3, 0.8, 1.5, 3.0, 5.0, 7.5, 9.0, 7.0, 8.9, 5.3, 2.6, 2.0, 2.1, 1.9, 4.9,
               8.4, 4.9, 2.6, 2.1]

LEGEND_MEAN = "Moyenne des scÃ©narios"
LEGEND_CTRL = "Run de contrôle"
LEGEND_HRES = "Run CEP/ECMWF"
PERTS_TEXT = "50 Perts."
TITLE_1 = "Diagramme ensembles ECMWF/CEP 0.4° sur 360h : 42.1N 13.8E"
TITLE_2 = "TempÃ©ratures 850hPa et 500hPa (°C) , prÃ©cipitations (mm)"
RUN_TEXT = "Ensemble ECMWF/CEP du 28/01/2023 - 12Z"
COPY_TEXT = "Copyright 2023 Meteociel.fr - ECMWF"

# ---------------- styling ----------------
RED = "#e3195b"
BLUE = "#1414f0"
BLACK = "#1a1a1a"
TXT = "#2a2a2a"
FONT = "DejaVu Sans Mono"

T_LO, T_HI = -52.37, 33.16
OFFSET = 45.0  # precipitation axis (mm) = temperature axis + 45
T_UNIT_TICK = -52.3
MM_UNIT_TICK = T_UNIT_TICK + OFFSET

p = figure(width=400, height=341, output_backend="svg", toolbar_location=None,
           x_range=Range1d(0, 360), y_range=Range1d(T_LO, T_HI),
           min_border_left=27, min_border_right=27, min_border_top=0, min_border_bottom=16,
           background_fill_color="white", border_fill_color="white", outline_line_color=None)
p.frame_align = False
p.extra_y_ranges = {"mm": Range1d(T_LO + OFFSET, T_HI + OFFSET)}

left = p.yaxis[0]
bottom = p.xaxis[0]
left.ticker = FixedTicker(ticks=[T_UNIT_TICK] + T_TICKS)
left.major_label_overrides = {T_UNIT_TICK: T_UNIT_LABEL}
bottom.ticker = FixedTicker(ticks=DATE_HOURS)
bottom.major_label_overrides = {h: lab for h, lab in zip(DATE_HOURS, DATE_LABELS)}
bottom.major_label_orientation = math.pi / 2
right = LinearAxis(y_range_name="mm", ticker=FixedTicker(ticks=[MM_UNIT_TICK] + MM_TICKS))
right.major_label_overrides = {MM_UNIT_TICK: MM_UNIT_LABEL}
p.add_layout(right, "right")

for ax in (left, bottom, right):
    ax.major_tick_line_color = None
    ax.minor_tick_line_color = None
    ax.major_tick_out = 0
    ax.major_tick_in = 0
    ax.minor_tick_out = 0
    ax.minor_tick_in = 0
    ax.axis_line_color = "#555555"
    ax.major_label_text_font = FONT
    ax.major_label_text_font_size = "6px"
    ax.major_label_text_color = TXT
left.major_label_standoff = 8
right.major_label_standoff = 10
bottom.major_label_standoff = 0
bottom.major_label_text_font_size = "5.3px"

p.xgrid.grid_line_color = "#d4d4d4"
p.ygrid.grid_line_color = "#d4d4d4"
p.ygrid.ticker = FixedTicker(ticks=T_TICKS)

for loc in (0, -10):
    p.add_layout(Span(location=loc, dimension="width", line_color="#a8a8a8",
                      line_width=1.5, level="underlay"))

# ensemble members
src850 = ColumnDataSource(dict(xs=[HOURS] * len(T850_MEMBERS), ys=T850_MEMBERS, c=MEMBER_COLORS))
src500 = ColumnDataSource(dict(xs=[HOURS] * len(T500_MEMBERS), ys=T500_MEMBERS, c=MEMBER_COLORS))
srcpr = ColumnDataSource(dict(xs=[HOURS] * len(PRECIP_MEMBERS), ys=PRECIP_MEMBERS, c=MEMBER_COLORS))
p.multi_line("xs", "ys", source=src850, line_color="c", line_width=0.8, line_alpha=0.9)
p.multi_line("xs", "ys", source=src500, line_color="c", line_width=0.8, line_alpha=0.9)
p.multi_line("xs", "ys", source=srcpr, line_color="c", line_width=0.8, line_alpha=0.9,
             y_range_name="mm")

# mean, control, HRES
p.line(MEAN_T850_H, MEAN_T850, line_color=RED, line_width=3)
p.line(MEAN_T500_H, MEAN_T500, line_color=RED, line_width=3)
p.line(MEAN_PRECIP_H, MEAN_PRECIP, line_color=RED, line_width=3, y_range_name="mm")
p.line(CTRL_T850_H, CTRL_T850, line_color=BLUE, line_width=3)
p.line(CTRL_T500_H, CTRL_T500, line_color=BLUE, line_width=3)
p.line(CTRL_PRECIP_H, CTRL_PRECIP, line_color=BLUE, line_width=2.5, y_range_name="mm")
p.line(HRES_T850_H, HRES_T850, line_color=BLACK, line_width=3)
p.line(HRES_T500_H, HRES_T500, line_color=BLACK, line_width=3)
p.line(HRES_PRECIP_H, HRES_PRECIP, line_color=BLACK, line_width=2.5, y_range_name="mm")

for txt, yv in (("Temp. 850hPa", 4.2), ("Temp. 500hPa", -17.6), ("Précipitations", -41.0)):
    p.add_layout(Label(x=5, y=yv, text=txt, text_font=FONT, text_font_size="5.5px",
                       text_color=TXT, text_baseline="middle"))

# ---------------- bottom strip (legend + titles) ----------------
# pixel-space figure: x 0..400, y 0..37 downward (canvas rows 341..378)
q = figure(width=400, height=37, output_backend="svg", toolbar_location=None,
           x_range=Range1d(0, 400), y_range=Range1d(37, 0),
           x_axis_type=None, y_axis_type=None, min_border=0,
           min_border_left=0, min_border_right=0, min_border_top=0, min_border_bottom=0,
           background_fill_color="white", border_fill_color="white", outline_line_color=None)
q.frame_align = False
q.grid.visible = False


def qtext(xs, ys, texts, size="5.5px", bold=False, align="left"):
    q.text(x=xs, y=ys, text=texts, text_font=value(FONT), text_font_size=value(size),
           text_font_style="bold" if bold else "normal", text_color=TXT,
           text_baseline="middle", text_align=align)


# legend swatches
q.segment(x0=[18], y0=[2.6], x1=[37], y1=[2.6], line_color=RED, line_width=3)
q.segment(x0=[122], y0=[2.4], x1=[143], y1=[2.4], line_color=BLUE, line_width=3)
q.segment(x0=[122], y0=[8.0], x1=[143], y1=[8.0], line_color=BLACK, line_width=3)
qtext([40], [2.8], [LEGEND_MEAN])
qtext([144], [2.6], [LEGEND_CTRL])
qtext([144], [8.2], [LEGEND_HRES])
qtext([200], [11.0], [PERTS_TEXT])

# 50 member colour cells
CELL_W = 5.96
cell_x = [233 + i * CELL_W + CELL_W / 2 for i in range(25)]
q.rect(x=cell_x, y=[8.5] * 25, width=CELL_W, height=3.7, fill_color=MEMBER_COLORS[:25],
       line_color=None)
q.rect(x=cell_x, y=[12.2] * 25, width=CELL_W, height=3.7, fill_color=MEMBER_COLORS[25:],
       line_color=None)
qtext(cell_x, [3.6] * 25, ["%02d" % (i + 1) for i in range(25)], size="4.3px", align="center")
qtext(cell_x, [16.6] * 25, ["%02d" % (i + 26) for i in range(25)], size="4.3px", align="center")

# title box and texts
q.quad(left=[12], right=[238], top=[19], bottom=[40], fill_color=None,
       line_color="#222222", line_width=1)
qtext([16], [25], [TITLE_1], size="6.3px", bold=True)
qtext([16], [33], [TITLE_2], size="5.3px")
qtext([243], [23.5], [RUN_TEXT], size="6px")
qtext([243], [33], [COPY_TEXT], size="6.3px", bold=True)

layout = column(p, q, spacing=0)
open("out.html", "w").write(file_html(layout, INLINE))
